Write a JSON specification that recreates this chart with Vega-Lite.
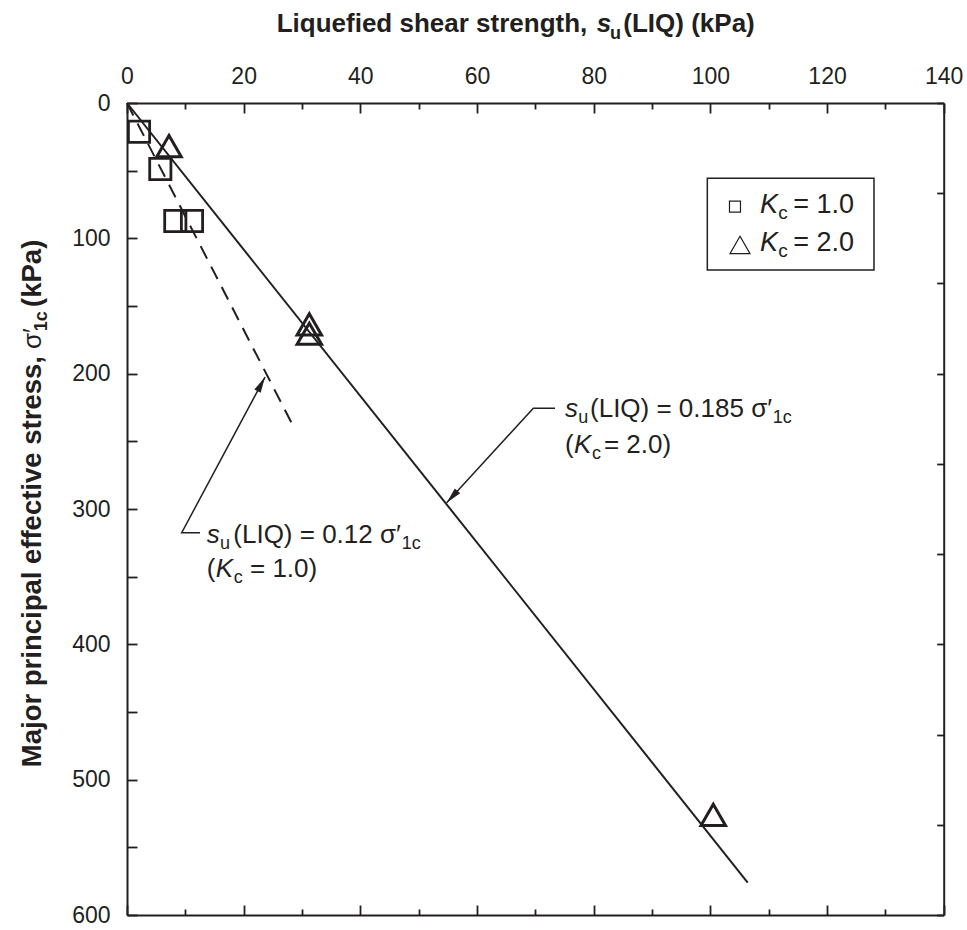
{
  "$schema": "https://vega.github.io/schema/vega-lite/v6.json",
  "width": 816.7,
  "height": 812,
  "autosize": {"type": "none"},
  "padding": {"left": 127, "top": 103, "right": 23.3, "bottom": 15},
  "background": "white",
  "config": {"view": {"stroke": null}, "font": "Liberation Sans"},
  "datasets": {
    "kc1": [{"x": 2.06, "y": 21.2}, {"x": 5.71, "y": 48.8}, {"x": 8.28, "y": 87.2}, {"x": 11.14, "y": 87.2}],
    "kc2": [{"x": 7.2, "y": 31.8}, {"x": 31.25, "y": 163.5}, {"x": 31.25, "y": 170.5}, {"x": 100.5, "y": 526}],
    "fit2": [{"x": 0, "y": 0}, {"x": 106.4, "y": 576}],
    "fit1": [{"x": 0, "y": 0}, {"x": 28.63, "y": 239.9}],
    "leader1": [{"x": 12.51, "y": 317.5, "o": 1}, {"x": 9.38, "y": 317.5, "o": 2}, {"x": 23.66, "y": 202.5, "o": 3}],
    "leader2": [{"x": 73.37, "y": 225.6, "o": 1}, {"x": 69.65, "y": 225.6, "o": 2}, {"x": 54.8, "y": 295.3, "o": 3}],
    "head1": [{"x": 23.66, "y": 202.5}],
    "head2": [{"x": 54.8, "y": 295.3}],
    "legbox": [{"x": 99.48, "x2": 128.05, "y": 55.64, "y2": 123.4}],
    "legsq": [{"x": 104.22, "y": 76.6}],
    "legtri": [{"x": 105.08, "y": 104.9}],
    "txtReg": [
      {"x": 18.22, "y": 325.1, "t": "(LIQ) = 0.12 σ′"},
      {"x": 13.66, "y": 350.0, "t": "("},
      {"x": 21.08, "y": 350.0, "t": "= 1.0)"},
      {"x": 79.37, "y": 232.2, "t": "(LIQ) = 0.185 σ′"},
      {"x": 75.08, "y": 258.8, "t": "("},
      {"x": 81.75, "y": 258.8, "t": "= 2.0)"}
    ],
    "txtItal": [
      {"x": 13.66, "y": 325.1, "t": "s"},
      {"x": 15.2, "y": 350.0, "t": "K"},
      {"x": 75.08, "y": 232.2, "t": "s"},
      {"x": 76.62, "y": 258.8, "t": "K"}
    ],
    "txtSub": [
      {"x": 15.94, "y": 325.1, "t": "u"},
      {"x": 47.1, "y": 325.1, "t": "1c"},
      {"x": 18.3, "y": 350.0, "t": "c"},
      {"x": 77.36, "y": 232.2, "t": "u"},
      {"x": 110.7, "y": 232.2, "t": "1c"},
      {"x": 79.7, "y": 258.8, "t": "c"}
    ],
    "legItal": [{"x": 108.51, "y": 81.5, "t": "K"}, {"x": 108.51, "y": 109.1, "t": "K"}],
    "legSub": [{"x": 111.65, "y": 81.5, "t": "c"}, {"x": 111.65, "y": 109.1, "t": "c"}],
    "legReg": [{"x": 114.22, "y": 81.5, "t": "= 1.0"}, {"x": 114.22, "y": 109.1, "t": "= 2.0"}],
    "xtBold": [{"x": 25.66, "y": -52.7, "t": "Liquefied shear strength,"}, {"x": 85.08, "y": -52.7, "t": "(LIQ) (kPa)"}],
    "xtItal": [{"x": 80.51, "y": -52.7, "t": "s"}],
    "xtSub": [{"x": 82.79, "y": -52.7, "t": "u"}],
    "ytA": [{"x": -14.66, "y": 187.0, "t": "Major principal effective stress,"}],
    "ytB": [{"x": -14.66, "y": 181.8, "t": "σ′"}],
    "ytC": [{"x": -14.66, "y": 168.6, "t": "1c"}],
    "ytD": [{"x": -14.66, "y": 150.7, "t": "(kPa)"}]
  },
  "encoding": {
    "x": {"field": "x", "type": "quantitative", "scale": {"domain": [0, 140], "nice": false, "zero": false}, "axis": null},
    "y": {"field": "y", "type": "quantitative", "scale": {"domain": [0, 600], "nice": false, "zero": false, "reverse": true}, "axis": null}
  },
  "resolve": {"axis": {"x": "independent", "y": "independent"}},
  "layer": [
    {
      "data": {"name": "fit2"},
      "mark": {"type": "line", "color": "#231f20", "strokeWidth": 2},
      "encoding": {
        "x": {"field": "x", "type": "quantitative", "scale": {"domain": [0, 140], "nice": false, "zero": false},
          "axis": {"orient": "top", "values": [0, 10, 20, 30, 40, 50, 60, 70, 80, 90, 100, 110, 120, 130, 140],
            "labelExpr": "datum.value % 20 === 0 ? datum.label : ''",
            "tickSize": {"condition": {"test": "datum.value % 20 === 0", "value": -10}, "value": -6},
            "labelPadding": 25, "grid": false, "title": null,
            "domainColor": "#231f20", "domainWidth": 2, "tickColor": "#231f20", "tickWidth": 1.8,
            "labelColor": "#231f20", "labelFont": "Liberation Sans", "labelFontSize": 23,
            "labelOverlap": false, "labelFlush": false, "labelBound": false}},
        "y": {"field": "y", "type": "quantitative", "scale": {"domain": [0, 600], "nice": false, "zero": false, "reverse": true},
          "axis": {"orient": "left", "values": [0, 50, 100, 150, 200, 250, 300, 350, 400, 450, 500, 550, 600],
            "labelExpr": "datum.value % 100 === 0 ? datum.label : ''",
            "tickSize": -10, "labelPadding": 27, "grid": false, "title": null,
            "domainColor": "#231f20", "domainWidth": 2, "tickColor": "#231f20", "tickWidth": 1.8,
            "labelColor": "#231f20", "labelFont": "Liberation Sans", "labelFontSize": 23,
            "labelOverlap": false, "labelFlush": false, "labelBound": false}}
      }
    },
    {
      "data": {"name": "fit1"},
      "mark": {"type": "line", "color": "#231f20", "strokeWidth": 2, "strokeDash": [14, 9]},
      "encoding": {
        "x": {"field": "x", "type": "quantitative", "scale": {"domain": [0, 140], "nice": false, "zero": false},
          "axis": {"orient": "bottom", "values": [0, 10, 20, 30, 40, 50, 60, 70, 80, 90, 100, 110, 120, 130, 140],
            "labels": false,
            "tickSize": {"condition": {"test": "datum.value % 20 === 0", "value": -10}, "value": -6},
            "grid": false, "title": null,
            "domainColor": "#231f20", "domainWidth": 2, "tickColor": "#231f20", "tickWidth": 1.8}},
        "y": {"field": "y", "type": "quantitative", "scale": {"domain": [0, 600], "nice": false, "zero": false, "reverse": true},
          "axis": {"orient": "right", "values": [0, 66.667, 133.333, 200, 266.667, 333.333, 400, 466.667, 533.333, 600],
            "labels": false, "tickSize": -7, "grid": false, "title": null,
            "domainColor": "#231f20", "domainWidth": 2, "tickColor": "#231f20", "tickWidth": 1.8}}
      }
    },
    {
      "data": {"name": "kc1"},
      "mark": {"type": "point", "shape": "square", "filled": false, "size": 450, "strokeWidth": 2.8, "color": "#231f20", "opacity": 1}
    },
    {
      "data": {"name": "kc2"},
      "mark": {"type": "point", "shape": "triangle-up", "filled": false, "size": 600, "strokeWidth": 3, "color": "#231f20", "opacity": 1}
    },
    {
      "data": {"name": "leader1"},
      "mark": {"type": "line", "color": "#231f20", "strokeWidth": 1.5},
      "encoding": {"order": {"field": "o", "type": "quantitative"}}
    },
    {
      "data": {"name": "leader2"},
      "mark": {"type": "line", "color": "#231f20", "strokeWidth": 1.5},
      "encoding": {"order": {"field": "o", "type": "quantitative"}}
    },
    {
      "data": {"name": "head1"},
      "mark": {"type": "point", "shape": "M0,0L-0.45,2L0.45,2Z", "filled": true, "size": 256, "angle": 28.1, "color": "#231f20", "opacity": 1, "strokeWidth": 0}
    },
    {
      "data": {"name": "head2"},
      "mark": {"type": "point", "shape": "M0,0L-0.45,2L0.45,2Z", "filled": true, "size": 256, "angle": 222.5, "color": "#231f20", "opacity": 1, "strokeWidth": 0}
    },
    {
      "data": {"name": "legbox"},
      "mark": {"type": "rect", "fill": "transparent", "stroke": "#231f20", "strokeWidth": 1.5},
      "encoding": {"x2": {"field": "x2"}, "y2": {"field": "y2"}}
    },
    {
      "data": {"name": "legsq"},
      "mark": {"type": "point", "shape": "square", "filled": false, "size": 121, "strokeWidth": 1.2, "color": "#231f20", "opacity": 1}
    },
    {
      "data": {"name": "legtri"},
      "mark": {"type": "point", "shape": "triangle-up", "filled": false, "size": 400, "strokeWidth": 1.2, "color": "#231f20", "opacity": 1}
    },
    {
      "data": {"name": "txtReg"},
      "mark": {"type": "text", "align": "left", "baseline": "alphabetic", "font": "Liberation Sans", "fontSize": 26, "color": "#231f20"},
      "encoding": {"text": {"field": "t", "type": "nominal"}}
    },
    {
      "data": {"name": "txtItal"},
      "mark": {"type": "text", "align": "left", "baseline": "alphabetic", "font": "Liberation Sans", "fontSize": 26, "fontStyle": "italic", "color": "#231f20"},
      "encoding": {"text": {"field": "t", "type": "nominal"}}
    },
    {
      "data": {"name": "txtSub"},
      "mark": {"type": "text", "align": "left", "baseline": "alphabetic", "font": "Liberation Sans", "fontSize": 18, "dy": 6, "color": "#231f20"},
      "encoding": {"text": {"field": "t", "type": "nominal"}}
    },
    {
      "data": {"name": "legItal"},
      "mark": {"type": "text", "align": "left", "baseline": "alphabetic", "font": "Liberation Sans", "fontSize": 27, "fontStyle": "italic", "color": "#231f20"},
      "encoding": {"text": {"field": "t", "type": "nominal"}}
    },
    {
      "data": {"name": "legSub"},
      "mark": {"type": "text", "align": "left", "baseline": "alphabetic", "font": "Liberation Sans", "fontSize": 19, "dy": 6, "color": "#231f20"},
      "encoding": {"text": {"field": "t", "type": "nominal"}}
    },
    {
      "data": {"name": "legReg"},
      "mark": {"type": "text", "align": "left", "baseline": "alphabetic", "font": "Liberation Sans", "fontSize": 27, "color": "#231f20"},
      "encoding": {"text": {"field": "t", "type": "nominal"}}
    },
    {
      "data": {"name": "xtBold"},
      "mark": {"type": "text", "align": "left", "baseline": "alphabetic", "font": "Liberation Sans", "fontSize": 26, "fontWeight": "bold", "color": "#231f20"},
      "encoding": {"text": {"field": "t", "type": "nominal"}}
    },
    {
      "data": {"name": "xtItal"},
      "mark": {"type": "text", "align": "left", "baseline": "alphabetic", "font": "Liberation Sans", "fontSize": 26, "fontWeight": "bold", "fontStyle": "italic", "color": "#231f20"},
      "encoding": {"text": {"field": "t", "type": "nominal"}}
    },
    {
      "data": {"name": "xtSub"},
      "mark": {"type": "text", "align": "left", "baseline": "alphabetic", "font": "Liberation Sans", "fontSize": 18, "fontWeight": "bold", "dy": 7, "color": "#231f20"},
      "encoding": {"text": {"field": "t", "type": "nominal"}}
    },
    {
      "data": {"name": "ytA"},
      "mark": {"type": "text", "align": "right", "baseline": "alphabetic", "angle": 270, "font": "Liberation Sans", "fontSize": 27.5, "fontWeight": "bold", "color": "#231f20"},
      "encoding": {"text": {"field": "t", "type": "nominal"}}
    },
    {
      "data": {"name": "ytB"},
      "mark": {"type": "text", "align": "left", "baseline": "alphabetic", "angle": 270, "font": "Liberation Sans", "fontSize": 26, "color": "#231f20"},
      "encoding": {"text": {"field": "t", "type": "nominal"}}
    },
    {
      "data": {"name": "ytC"},
      "mark": {"type": "text", "align": "left", "baseline": "alphabetic", "angle": 270, "font": "Liberation Sans", "fontSize": 18, "fontWeight": "bold", "dy": 6, "color": "#231f20"},
      "encoding": {"text": {"field": "t", "type": "nominal"}}
    },
    {
      "data": {"name": "ytD"},
      "mark": {"type": "text", "align": "left", "baseline": "alphabetic", "angle": 270, "font": "Liberation Sans", "fontSize": 27.5, "fontWeight": "bold", "color": "#231f20"},
      "encoding": {"text": {"field": "t", "type": "nominal"}}
    }
  ]
}
